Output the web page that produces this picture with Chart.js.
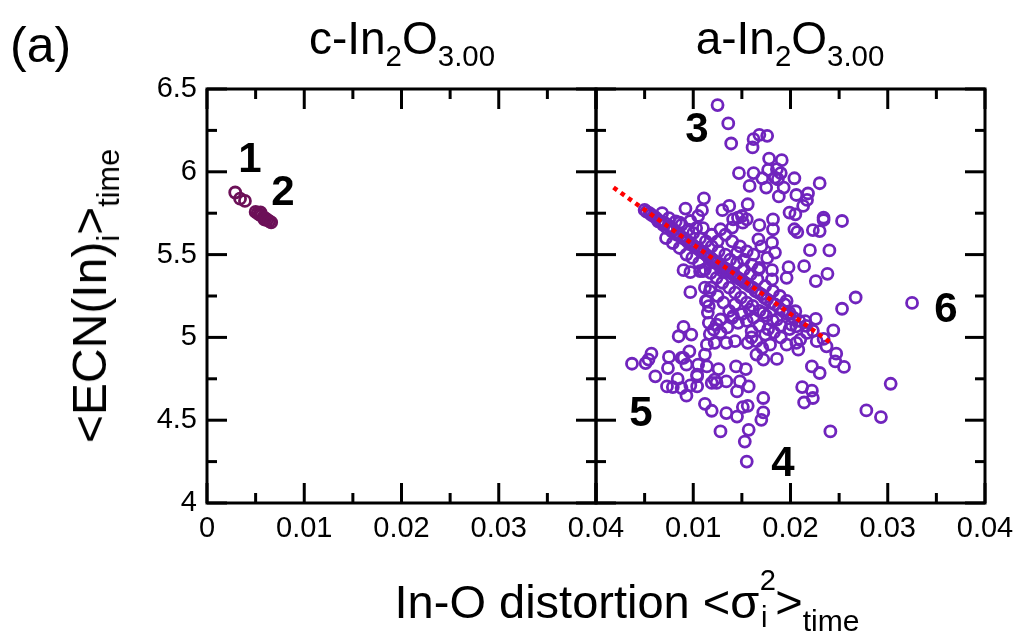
<!DOCTYPE html>
<html><head><meta charset="utf-8">
<script src="https://cdn.jsdelivr.net/npm/chart.js@4.4.1/dist/chart.umd.min.js"></script>
<style>
html,body{margin:0;padding:0;background:#fff;width:1024px;height:638px;overflow:hidden}
canvas{position:absolute;left:0;top:0}
.t{position:absolute;font-family:"Liberation Sans",Arial,Helvetica,sans-serif;color:#000;line-height:1;white-space:nowrap}
.sb{position:relative;top:0.42em;font-size:0.64em}
.stk{display:inline-block;position:relative;width:0.34em;height:1em}
.stk .u{position:absolute;left:0.02em;bottom:0.78em;font-size:0.62em;line-height:1}
.stk .d{position:absolute;left:0.06em;bottom:-0.5em;font-size:0.62em;line-height:1}
.num{position:absolute;font-family:"Liberation Sans",Arial,sans-serif;font-weight:bold;font-size:42px;line-height:1;transform:translate(-50%,-50%)}
</style></head><body>
<canvas id="cA" width="1024" height="638"></canvas>
<canvas id="cB" width="1024" height="638"></canvas>

<div class="t" style="left:10px;top:20px;font-size:50px">(a)</div>
<div class="t" style="left:402px;top:15px;font-size:46px;transform:translateX(-50%)">c-In<span class="sb">2</span>O<span class="sb">3.00</span></div>
<div class="t" style="left:790px;top:15px;font-size:46px;transform:translateX(-50%)">a-In<span class="sb">2</span>O<span class="sb">3.00</span></div>
<div class="t" style="left:627px;top:571px;font-size:47px;transform:translateX(-50%)">In-O distortion &lt;σ<span class="stk"><span class="u">2</span><span class="d">i</span></span>&gt;<span class="sb">time</span></div>
<div class="t" style="left:90px;top:296px;font-size:48px;transform:translate(-50%,-50%) rotate(-90deg)">&lt;ECN(In)<span class="sb">i</span>&gt;<span class="sb">time</span></div>

<div class="num" style="left:250px;top:158px">1</div>
<div class="num" style="left:283px;top:191px">2</div>
<div class="num" style="left:697px;top:128px">3</div>
<div class="num" style="left:783px;top:462px">4</div>
<div class="num" style="left:641px;top:412px">5</div>
<div class="num" style="left:946px;top:308px">6</div>

<script>
// ---- data ----
const xTickValues = [0, 0.01, 0.02, 0.03, 0.04];
const xTickLabelsLeft = ['0', '0.01', '0.02', '0.03', '0.04'];
const xTickLabelsRight = ['', '0.01', '0.02', '0.03', '0.04'];
const yTickValues = [4, 4.5, 5, 5.5, 6, 6.5];
const yTickLabels = ['4', '4.5', '5', '5.5', '6', '6.5'];

// crystalline c-In2O3.00 : [distortion, ECN]
const crystalPoints = [
  [0.0029,5.875],[0.0034,5.838],[0.0039,5.824],[0.0050,5.758],[0.0052,5.750],
  [0.0054,5.742],[0.0055,5.755],[0.0056,5.735],[0.0058,5.727],[0.0059,5.712],
  [0.0060,5.718],[0.0062,5.710],[0.0064,5.702],[0.0066,5.694]
];

// amorphous a-In2O3.00 : [distortion, ECN]
const amorphousPoints = [
  [0.0125,6.403],[0.0136,6.292],[0.0139,6.171],[0.0162,6.197],[0.0168,6.223],[0.0176,6.217],[0.0161,6.147],[0.0178,6.080],[0.0191,6.070],[0.0147,5.992],
  [0.0162,5.992],[0.0177,6.012],[0.0171,5.961],[0.0186,6.016],[0.0190,5.992],[0.0187,5.955],[0.0184,5.965],[0.0204,5.961],[0.0230,5.931],[0.0158,5.915],
  [0.0175,5.905],[0.0193,5.905],[0.0206,5.860],[0.0218,5.869],[0.0217,5.830],[0.0213,5.794],[0.0188,5.851],[0.0111,5.840],[0.0092,5.778],[0.0109,5.768],
  [0.0105,5.733],[0.0130,5.768],[0.0137,5.794],[0.0156,5.804],[0.0150,5.733],[0.0155,5.713],[0.0141,5.713],[0.0182,5.713],[0.0182,5.653],[0.0199,5.754],
  [0.0205,5.743],[0.0204,5.653],[0.0207,5.636],[0.0234,5.723],[0.0234,5.709],[0.0230,5.642],[0.0223,5.648],[0.0253,5.703],[0.0220,5.527],[0.0240,5.525],
  [0.0214,5.430],[0.0238,5.384],[0.0226,5.340],[0.0198,5.424],[0.0196,5.360],[0.0181,5.406],[0.0181,5.350],[0.0090,5.406],[0.0097,5.394],[0.0107,5.400],
  [0.0097,5.273],[0.0267,5.241],[0.0325,5.208],[0.0253,5.173],[0.0244,5.043],[0.0226,5.112],[0.0247,4.902],[0.0246,4.855],[0.0255,4.822],[0.0222,4.825],
  [0.0230,4.785],[0.0303,4.720],[0.0212,4.700],[0.0222,4.678],[0.0223,4.634],[0.0214,4.607],[0.0278,4.559],[0.0293,4.519],[0.0241,4.432],[0.0037,4.841],
  [0.0051,4.845],[0.0057,4.902],[0.0054,4.866],[0.0061,4.765],[0.0075,4.882],[0.0074,4.815],[0.0073,4.704],[0.0079,4.700],[0.0084,4.749],[0.0093,4.648],
  [0.0088,4.694],[0.0097,4.710],[0.0104,4.704],[0.0085,5.007],[0.0090,5.064],[0.0098,5.017],[0.0090,4.876],[0.0096,4.916],[0.0093,4.835],[0.0105,4.835],
  [0.0112,4.896],[0.0114,4.825],[0.0104,4.765],[0.0112,4.599],[0.0119,4.557],[0.0134,4.543],[0.0145,4.522],[0.0151,4.579],[0.0156,4.587],[0.0128,4.432],
  [0.0153,4.371],[0.0157,4.442],[0.0155,4.250],[0.0170,4.502],[0.0172,4.547],[0.0172,4.634],[0.0144,4.825],[0.0154,4.809],[0.0157,4.704],[0.0145,4.674],
  [0.0134,4.734],[0.0126,4.809],[0.0122,4.745],[0.0114,4.956],[0.0128,5.108],[0.0122,4.967],[0.0134,4.967],[0.0143,4.977],[0.0156,4.967],[0.0165,4.977],
  [0.0165,4.896],[0.0172,4.866],[0.0171,4.937],[0.0179,4.956],[0.0186,4.870],[0.0196,4.956],[0.0206,4.967],[0.0208,4.926],[0.0114,5.219],[0.0116,5.189],
  [0.0141,5.128],[0.0146,5.088],[0.0116,5.088],[0.0121,5.047],[0.0158,5.168],[0.0172,5.148],[0.0186,5.108],[0.0199,5.148],[0.0206,5.067],[0.0227,4.977],
  [0.0234,4.991],[0.0237,4.946],[0.0210,4.987],[0.0217,5.027],[0.0088,4.876],[0.0104,4.775],[0.0119,4.725],[0.0124,4.725],[0.0148,4.734],[0.0117,5.279],
  [0.0124,5.077],[0.0167,5.592],[0.0181,5.572],[0.0184,5.512],[0.0167,5.410],[0.0140,5.118],[0.0160,5.037],[0.0174,5.017],[0.0194,5.199],[0.0205,5.158],
  [0.0215,5.098],[0.0201,5.077],[0.0086,5.693],[0.0097,5.703],[0.0128,5.653],[0.0140,5.663],[0.0146,5.723],[0.0151,5.693],[0.0168,5.678],
  // dense band along the fit
  [0.0050,5.77],[0.0052,5.76],[0.0055,5.75],[0.0057,5.74],[0.0060,5.73],[0.0062,5.72],[0.0064,5.70],[0.0067,5.70],[0.0069,5.68],[0.0071,5.69],
  [0.0073,5.66],[0.0076,5.67],[0.0078,5.64],[0.0080,5.65],[0.0083,5.62],[0.0085,5.63],[0.0087,5.61],[0.0090,5.60],[0.0092,5.59],[0.0094,5.58],
  [0.0097,5.57],[0.0099,5.56],[0.0101,5.55],[0.0104,5.54],[0.0106,5.53],[0.0108,5.52],[0.0111,5.51],[0.0113,5.50],[0.0115,5.49],[0.0118,5.48],
  [0.0120,5.47],[0.0122,5.46],[0.0125,5.45],[0.0127,5.44],[0.0129,5.43],[0.0132,5.42],[0.0134,5.41],[0.0136,5.40],[0.0139,5.39],[0.0141,5.38],
  [0.0143,5.37],[0.0146,5.36],[0.0148,5.35],[0.0151,5.34],[0.0153,5.33],[0.0156,5.32],[0.0158,5.31],[0.0161,5.30],[0.0164,5.28],[0.0167,5.27],
  [0.0170,5.26],[0.0173,5.24],[0.0176,5.23],[0.0180,5.21],[0.0184,5.20],[0.0188,5.18],[0.0192,5.16],[0.0197,5.14],[0.0203,5.12],[0.0209,5.10],
  [0.0216,5.07],[0.0223,5.04],
  [0.0068,5.75],[0.0075,5.72],[0.0082,5.70],[0.0088,5.68],[0.0095,5.65],[0.0100,5.63],[0.0107,5.60],[0.0113,5.58],[0.0119,5.55],[0.0126,5.52],
  [0.0133,5.50],[0.0138,5.47],[0.0145,5.45],[0.0152,5.41],[0.0159,5.38],[0.0166,5.35],[0.0174,5.31],[0.0182,5.28],[0.0189,5.25],[0.0196,5.22],
  [0.0072,5.60],[0.0079,5.57],[0.0086,5.54],[0.0093,5.50],[0.0099,5.48],[0.0106,5.45],[0.0112,5.41],[0.0118,5.39],[0.0124,5.36],[0.0130,5.33],
  [0.0137,5.30],[0.0143,5.27],[0.0149,5.24],[0.0155,5.21],[0.0161,5.19],[0.0168,5.16],[0.0175,5.13],[0.0182,5.10],[0.0190,5.07],[0.0199,5.05],
  [0.0118,5.30],[0.0125,5.25],[0.0131,5.21],[0.0137,5.16],[0.0143,5.20],[0.0150,5.14],[0.0155,5.10],[0.0162,5.12],[0.0168,5.07],[0.0177,5.05],
  [0.0183,5.03],[0.0190,5.00],[0.0135,5.06],[0.0128,5.03],[0.0160,5.00],
  [0.0133,5.62],[0.0140,5.58],[0.0148,5.55],[0.0155,5.52],[0.0162,5.50],[0.0170,5.55],[0.0176,5.48],[0.0168,5.42],[0.0160,5.44],[0.0152,5.47],
  [0.0145,5.51],[0.0125,5.58],[0.0119,5.62],[0.0110,5.66],[0.0103,5.66],[0.0130,5.40],[0.0110,5.40],[0.0112,5.30],[0.0113,5.22],[0.0115,5.15],[0.0117,5.02]
];

// linear fit (red dotted line) end points
const fitX = [0.0018, 0.0243];
const fitY = [5.905, 4.961];

// ---- styles ----
const crystalColor = '#6c1058';
const amorphousColor = '#7024bd';
const tickFont = {family: '"Liberation Sans",Arial,sans-serif', size: 29};

const framePlugin = {
  id: 'frame',
  afterDraw(chart) {
    const {ctx, chartArea: a, scales: {x, y}} = chart;
    ctx.save();
    ctx.strokeStyle = '#000';
    ctx.lineWidth = 3;
    ctx.lineCap = 'butt';
    ctx.strokeRect(a.left, a.top, a.right - a.left, a.bottom - a.top);
    const seg = (x1, y1, x2, y2) => { ctx.beginPath(); ctx.moveTo(x1, y1); ctx.lineTo(x2, y2); ctx.stroke(); };
    xTickValues.forEach((v, i) => {
      const px = x.getPixelForValue(v);
      seg(px, a.bottom, px, a.bottom - 20); seg(px, a.top, px, a.top + 20);
      if (i < xTickValues.length - 1) {
        const pm = x.getPixelForValue((v + xTickValues[i + 1]) / 2);
        seg(pm, a.bottom, pm, a.bottom - 10); seg(pm, a.top, pm, a.top + 10);
      }
    });
    yTickValues.forEach((v, i) => {
      const py = y.getPixelForValue(v);
      seg(a.left, py, a.left + 20, py); seg(a.right, py, a.right - 20, py);
      if (i < yTickValues.length - 1) {
        const pm = y.getPixelForValue((v + yTickValues[i + 1]) / 2);
        seg(a.left, pm, a.left + 10, pm); seg(a.right, pm, a.right - 10, pm);
      }
    });
    ctx.restore();
  }
};

function makeScales(xLabels, showY, yWidth) {
  return {
    x: {
      type: 'linear', min: 0, max: 0.04,
      afterBuildTicks: s => { s.ticks = xTickValues.map(v => ({value: v})); },
      afterFit: s => { s.height = 135; },
      grid: {display: false, drawTicks: false}, border: {display: false},
      ticks: {padding: 9, font: tickFont, color: '#000', maxRotation: 0, autoSkip: false,
        callback: (v, i) => xLabels[i]}
    },
    y: {
      type: 'linear', min: 4, max: 6.5, display: showY,
      afterBuildTicks: s => { s.ticks = yTickValues.map(v => ({value: v})); },
      afterFit: s => { s.width = yWidth; },
      grid: {display: false, drawTicks: false}, border: {display: false},
      ticks: {padding: 10, font: tickFont, color: '#000', autoSkip: false,
        callback: (v, i) => yTickLabels[i]}
    }
  };
}

const baseOpts = {responsive: false, animation: false, events: [],
  plugins: {legend: {display: false}, tooltip: {enabled: false}}};

new Chart(document.getElementById('cA'), {
  type: 'scatter',
  data: {datasets: [{
    data: crystalPoints.map(p => ({x: p[0], y: p[1]})),
    pointStyle: 'circle', pointRadius: 5.5, borderWidth: 2.8,
    borderColor: crystalColor, backgroundColor: 'rgba(0,0,0,0)'
  }]},
  options: Object.assign({}, baseOpts, {
    layout: {padding: {left: 0, right: 1024 - 596, top: 89, bottom: 0}, autoPadding: false},
    scales: makeScales(xTickLabelsLeft, true, 207)
  }),
  plugins: [framePlugin]
});

new Chart(document.getElementById('cB'), {
  type: 'scatter',
  data: {datasets: [
    {
      type: 'line',
      data: fitX.map((v, i) => ({x: v, y: fitY[i]})),
      borderColor: '#ff0000', borderWidth: 4.5, borderDash: [4.5, 4.5],
      pointRadius: 0, fill: false, order: 0
    },
    {
      data: amorphousPoints.map(p => ({x: p[0], y: p[1]})),
      pointStyle: 'circle', pointRadius: 5.5, borderWidth: 2.8,
      borderColor: amorphousColor, backgroundColor: 'rgba(0,0,0,0)', order: 1
    }
  ]},
  options: Object.assign({}, baseOpts, {
    layout: {padding: {left: 596, right: 1024 - 985, top: 89, bottom: 0}, autoPadding: false},
    scales: makeScales(xTickLabelsRight, false, 0)
  }),
  plugins: [framePlugin]
});
</script>
</body></html>
